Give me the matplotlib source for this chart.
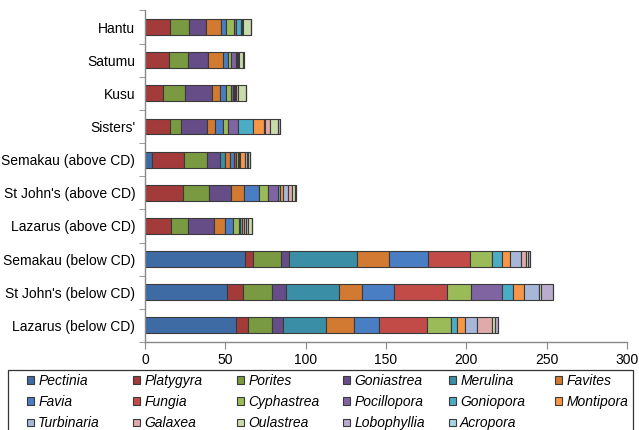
import matplotlib.pyplot as plt
import matplotlib.patches as mpatches
import numpy as np

plt.rcParams['font.family'] = ['Liberation Sans', 'DejaVu Sans']

## --sites, bottom to top
sites = ["Lazarus (below CD)", "St John's (below CD)", "Semakau (below CD)",
         "Lazarus (above CD)", "St John's (above CD)", "Semakau (above CD)",
         "Sisters'", "Kusu", "Satumu", "Hantu"]

genera = ["Pectinia", "Platygyra", "Porites", "Goniastrea", "Merulina", "Favites",
          "Favia", "Fungia", "Cyphastrea", "Pocillopora", "Goniopora", "Montipora",
          "Turbinaria", "Galaxea", "Oulastrea", "Lobophyllia", "Acropora"]

## --counts per genus, same order as sites
pectinia    = [56.6, 50.8, 62.4, 0,    0,    4.6,  0,    0,    0,    0]
platygyra   = [7.3,  10.0, 5.0,  16.0, 23.9, 19.9, 15.8, 11.0, 14.7, 15.8]
porites     = [15.3, 18.2, 17.4, 11.0, 16.1, 14.3, 6.8,  13.6, 12.3, 11.8]
goniastrea  = [6.9,  8.7,  5.0,  15.9, 13.7, 8.1,  16.2, 17.1, 12.0, 10.1]
merulina    = [26.7, 33.2, 42.3, 0,    0,    3.1,  0,    0,    0,    0]
favites     = [17.2, 13.9, 19.9, 7.1,  8.1,  2.7,  5.0,  5.0,  9.5,  9.8]
favia       = [15.8, 20.4, 24.1, 5.0,  9.1,  2.7,  5.0,  3.9,  3.3,  3.1]
fungia      = [29.5, 32.9, 26.1, 0,    0,    1.2,  0,    0,    0,    0]
cyphastrea  = [14.9, 14.9, 13.9, 3.3,  5.8,  1.2,  3.1,  2.9,  1.9,  5.0]
pocillopora = [0,    19.4, 0,    1.0,  5.9,  0.5,  5.8,  1.5,  3.1,  1.3]
goniopora   = [4.0,  6.8,  5.8,  1.0,  1.4,  0.8,  9.3,  0.6,  0.5,  2.6]
montipora   = [5.1,  7.0,  5.2,  1.5,  2.1,  3.3,  7.1,  0.6,  0.5,  0.6]
turbinaria  = [7.5,  9.0,  7.0,  1.0,  2.7,  0.8,  0.6,  0.6,  0.5,  0.8]
galaxea     = [9.2,  0,    3.0,  1.0,  2.7,  0.8,  2.9,  1.3,  0.5,  0]
oulastrea   = [1.8,  1.5,  1.0,  2.6,  2.0,  1.3,  5.2,  4.5,  2.3,  4.8]
lobophyllia = [2.1,  7.0,  1.5,  0,    0.5,  0,    1.0,  0,    0.6,  0]
acropora    = [0,    0,    0,    0,    0,    0,    0,    0,    0,    0]

counts = [pectinia, platygyra, porites, goniastrea, merulina, favites, favia,
          fungia, cyphastrea, pocillopora, goniopora, montipora, turbinaria,
          galaxea, oulastrea, lobophyllia, acropora]

colors = ['#3F6BA5', '#A33B3A', '#7A9A41', '#664D88', '#3A8FA6', '#D27A31',
          '#4A7EC4', '#C24B48', '#9BBB59', '#8064A2', '#4BACC6', '#F79646',
          '#A7B7DA', '#DFAAAA', '#C9DAAB', '#B9ACCD', '#A6D4E2']

W, H = 639, 430
fig = plt.figure(figsize=(W/100, H/100), dpi=100)
ax = fig.add_axes([145/W, 1-342/H, 482/W, 331.5/H])

y = np.arange(len(sites))
left = np.zeros(len(sites))
for name, vals, col in zip(genera, counts, colors):
    ax.barh(y, vals, left=left, height=0.48, color=col, edgecolor='#3a3a3a',
            linewidth=0.8, label=name)
    left += np.array(vals)

## --axes style
ax.set_xlim(0, 300)
ax.set_ylim(-0.5, len(sites)-0.5)
ax.set_xticks(np.arange(0, 301, 50))
ax.set_yticks(y)
ax.set_yticklabels(sites, fontsize=10)
ax.set_yticks(np.arange(-0.5, len(sites), 1), minor=True)
ax.tick_params(axis='y', which='major', length=0, pad=7)
ax.tick_params(axis='y', which='minor', length=4, color='#888888')
ax.tick_params(axis='x', length=5, color='#888888', labelsize=10, pad=3)
for s in ['top', 'right']:
    ax.spines[s].set_visible(False)
for s in ['left', 'bottom']:
    ax.spines[s].set_color('#888888')
    ax.spines[s].set_linewidth(1.0)

## --legend: one legend per column so columns sit at equal spacing
handles = [mpatches.Patch(facecolor=c, edgecolor='#3a3a3a', linewidth=0.8)
           for c in colors]
col_x = [27, 133, 237, 343, 449, 555]
for j, x0 in enumerate(col_x):
    idx = [j + 6*i for i in range(3) if j + 6*i < len(genera)]
    fig.legend([handles[k] for k in idx], [genera[k] for k in idx],
               loc='upper left', bbox_to_anchor=(x0/W, 1-374/H),
               prop={'style': 'italic', 'size': 10}, frameon=False,
               handlelength=0.5, handleheight=0.5, handletextpad=0.3,
               labelspacing=0.52, borderpad=0, borderaxespad=0)

frame = mpatches.Rectangle((8/W, -0.02), 625/W, (H-370)/H + 0.02,
                           transform=fig.transFigure, fill=False,
                           edgecolor='#333333', linewidth=0.9)
fig.patches.append(frame)

fig.savefig('out.png', dpi=100)
